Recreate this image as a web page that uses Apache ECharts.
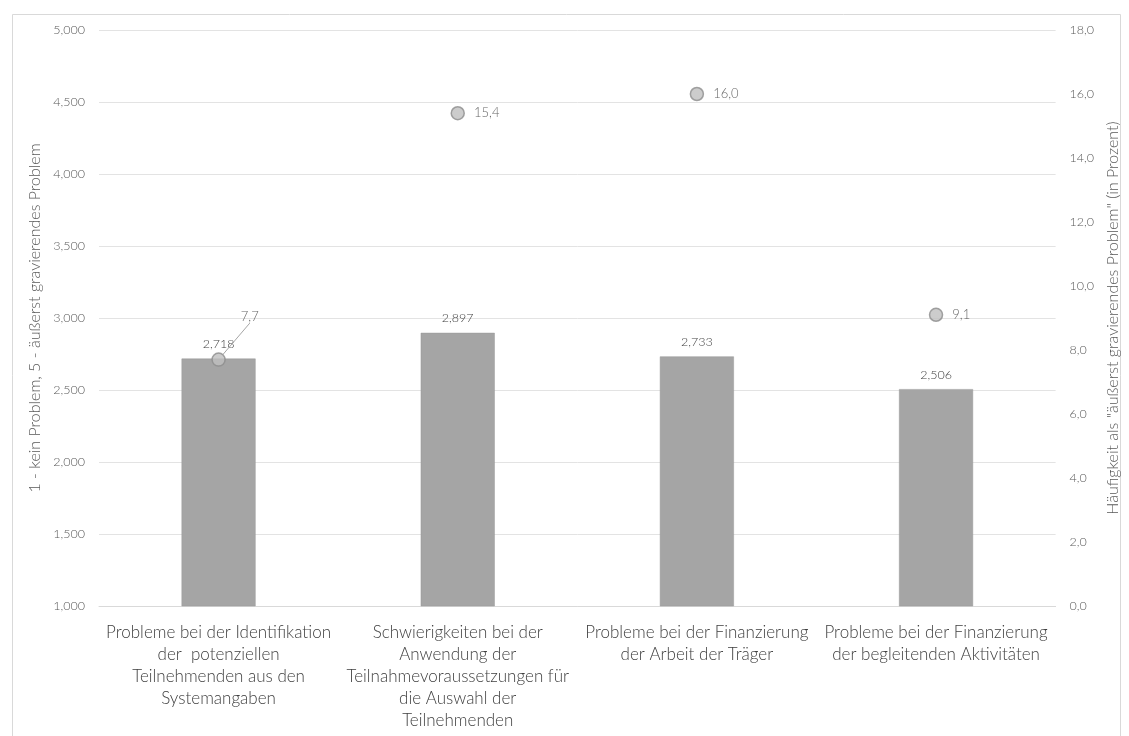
<!DOCTYPE html>
<html>
<head>
<meta charset="utf-8">
<script src="https://cdn.jsdelivr.net/npm/echarts@6/dist/echarts.min.js"></script>
<style>
html,body{margin:0;padding:0;background:#fff;}
#c{width:1129px;height:736px;}
</style>
</head>
<body>
<div id="c"></div>
<script>
const categories = [
  "Probleme bei der Identifikation\nder  potenziellen\nTeilnehmenden aus den\nSystemangaben",
  "Schwierigkeiten bei der\nAnwendung der\nTeilnahmevoraussetzungen für\ndie Auswahl der\nTeilnehmenden",
  "Probleme bei der Finanzierung\nder Arbeit der Träger",
  "Probleme bei der Finanzierung\nder begleitenden Aktivitäten"
];
const meanScores = [2.718, 2.897, 2.733, 2.506];
const severePercent = [7.7, 15.4, 16.0, 9.1];
const leftAxisTitle = "1 - kein Problem, 5 - äußerst gravierendes Problem";
const rightAxisTitle = "Häufigkeit als \"äußerst gravierendes Problem\" (in Prozent)";

const FONT = "Lato";
const TXT = "#595959";

const scatterData = severePercent.map((v, i) => i === 0
  ? {value: v, labelLine: {show: true}}
  : {value: v});

const chart = echarts.init(document.getElementById('c'), null, {renderer: 'canvas'});
chart.setOption({
  backgroundColor: '#fff',
  animation: false,
  textStyle: {fontFamily: FONT, fontWeight: 300},
  graphic: [{
    type: 'rect', left: 10, top: 12,
    shape: {width: 1108, height: 730},
    style: {fill: 'none', stroke: '#d9d9d9', lineWidth: 1}
  }],
  grid: {left: 99, right: 71, top: 30, bottom: 130},
  xAxis: {
    type: 'category',
    data: categories,
    axisLine: {show: true, lineStyle: {color: '#d9d9d9'}},
    axisTick: {show: false},
    axisLabel: {
      interval: 0, color: '#404040', fontSize: 17, fontFamily: FONT, fontWeight: 300,
      lineHeight: 22, margin: 16
    }
  },
  yAxis: [{
    type: 'value', min: 1, max: 5, interval: 0.5,
    name: leftAxisTitle, nameLocation: 'middle', nameGap: 56,
    nameTextStyle: {color: TXT, fontSize: 16, fontFamily: FONT, fontWeight: 300},
    axisLine: {show: false}, axisTick: {show: false},
    splitLine: {lineStyle: {color: '#e3e3e3'}},
    axisLabel: {color: TXT, fontSize: 12.5, margin: 14, fontWeight: 300,
      formatter: v => v.toFixed(3).replace('.', ',')}
  }, {
    type: 'value', min: 0, max: 18, interval: 2,
    name: rightAxisTitle, nameLocation: 'middle', nameGap: 46, nameRotate: 90,
    nameTextStyle: {color: TXT, fontSize: 16, fontFamily: FONT, fontWeight: 300},
    axisLine: {show: false}, axisTick: {show: false},
    splitLine: {show: false},
    axisLabel: {color: TXT, fontSize: 12.5, margin: 14, fontWeight: 300,
      formatter: v => v.toFixed(1).replace('.', ',')}
  }],
  series: [{
    type: 'bar',
    data: meanScores,
    yAxisIndex: 0,
    barWidth: 74,
    itemStyle: {color: '#a5a5a5', borderColor: '#999999', borderWidth: 0.5},
    label: {
      show: true, position: 'top', distance: 8, color: '#404040', fontSize: 12.5, fontWeight: 300,
      formatter: p => p.value.toFixed(3).replace('.', ',')
    }
  }, {
    type: 'scatter',
    data: scatterData,
    yAxisIndex: 1,
    symbol: 'circle', symbolSize: 13,
    itemStyle: {color: '#bfbfbf', borderColor: '#8c8c8c', borderWidth: 1.5},
    label: {
      show: true, position: 'right', distance: 9, color: '#404040', fontSize: 13, fontWeight: 300,
      formatter: p => p.value.toFixed(1).replace('.', ',')
    },
    labelLine: {show: false, lineStyle: {color: '#a6a6a6', width: 1}},
    labelLayout: function (params) {
      if (params.dataIndex === 0) return {dx: 6, dy: -43};
      return {};
    },
    z: 5
  }]
});
</script>
</body>
</html>
